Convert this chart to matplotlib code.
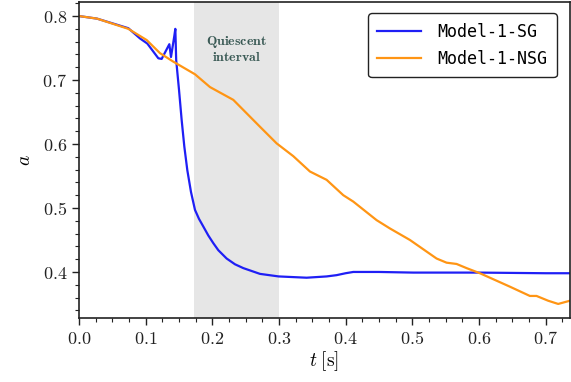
import matplotlib
matplotlib.use("Agg")
import matplotlib.pyplot as plt
from matplotlib.ticker import MultipleLocator, FuncFormatter

plt.rcParams['mathtext.fontset'] = 'cm'
plt.rcParams['font.family'] = ['DejaVu Serif']

# Model-1-SG (blue)
t_sg = [0.0, 0.027, 0.074, 0.0915, 0.1025, 0.119, 0.124, 0.1355, 0.138, 0.143,
        0.1445, 0.1458, 0.150, 0.154, 0.158, 0.1625, 0.168, 0.174, 0.180,
        0.1865, 0.194, 0.2015, 0.209, 0.2215, 0.234, 0.2465, 0.2715, 0.2995,
        0.3415, 0.3715, 0.3865, 0.400, 0.4115, 0.45, 0.5015, 0.6, 0.7, 0.7365]
a_sg = [0.800, 0.796, 0.781, 0.765, 0.757, 0.734, 0.733, 0.756, 0.736, 0.769,
        0.780, 0.731, 0.685, 0.6375, 0.596, 0.559, 0.525, 0.497, 0.483,
        0.471, 0.457, 0.445, 0.434, 0.421, 0.412, 0.406, 0.397, 0.393,
        0.391, 0.393, 0.395, 0.398, 0.400, 0.400, 0.399, 0.399, 0.398, 0.398]

# Model-1-NSG (orange)
t_nsg = [0.0, 0.027, 0.074, 0.1015, 0.1215, 0.1415, 0.174, 0.1965, 0.2315,
         0.2715, 0.2965, 0.3215, 0.3465, 0.3715, 0.3965, 0.4115, 0.4465,
         0.4665, 0.4965, 0.5365, 0.5515, 0.5665, 0.5815, 0.6015, 0.6465,
         0.6765, 0.6865, 0.704, 0.719, 0.7365]
a_nsg = [0.800, 0.796, 0.780, 0.7625, 0.742, 0.7287, 0.709, 0.689, 0.669,
         0.627, 0.601, 0.581, 0.557, 0.544, 0.520, 0.510, 0.481,
         0.468, 0.450, 0.421, 0.4145, 0.4125, 0.406, 0.398, 0.377,
         0.3625, 0.3625, 0.355, 0.350, 0.355]

quiescent = (0.1725, 0.2995)
labels = ['Model-1-SG', 'Model-1-NSG']
colors = ['#1f1ff5', '#ff9514']

fig = plt.figure(figsize=(5.71, 3.82), dpi=100)
ax = fig.add_axes([0.1384, 0.1675, 0.998 - 0.1384, 0.9948 - 0.1675])

ax.axvspan(quiescent[0], quiescent[1], color='#e6e6e6', lw=0, zorder=0)
ax.plot(t_sg, a_sg, color=colors[0], lw=1.6, label=labels[0])
ax.plot(t_nsg, a_nsg, color=colors[1], lw=1.6, label=labels[1])

ax.text((quiescent[0] + quiescent[1]) / 2, 0.760, r'$\mathbf{Quiescent}$',
        ha='center', va='center', color='#3a5a55', fontsize=10)
ax.text((quiescent[0] + quiescent[1]) / 2, 0.736, r'$\mathbf{interval}$',
        ha='center', va='center', color='#3a5a55', fontsize=10)

ax.set_xlim(0, 0.7365)
ax.set_ylim(0.328, 0.822)
ax.xaxis.set_major_locator(MultipleLocator(0.1))
ax.xaxis.set_minor_locator(MultipleLocator(0.025))
ax.yaxis.set_major_locator(MultipleLocator(0.1))
ax.yaxis.set_minor_locator(MultipleLocator(0.02))
fmt = FuncFormatter(lambda v, p: f'${v:.1f}$')
ax.xaxis.set_major_formatter(fmt)
ax.yaxis.set_major_formatter(fmt)
ax.tick_params(which='major', length=5, width=1, labelsize=13, colors='#222222')
ax.tick_params(which='minor', length=3, width=0.8, colors='#222222')
for s in ax.spines.values():
    s.set_color('#222222')
    s.set_linewidth(1.2)

ax.set_xlabel(r'$t\;[\mathrm{s}]$', fontsize=14, labelpad=1)
ax.set_ylabel(r'$a$', fontsize=14, labelpad=6)

leg = ax.legend(loc='upper right',
                prop={'family': 'DejaVu Sans Mono', 'size': 12},
                frameon=True, fancybox=True, edgecolor='#222222', framealpha=1,
                handlelength=2.6, borderpad=0.55, labelspacing=0.55,
                handletextpad=1.0,
                bbox_to_anchor=(0.99, 0.99))
leg.get_frame().set_linewidth(1.0)

fig.savefig('out.png', dpi=100)
